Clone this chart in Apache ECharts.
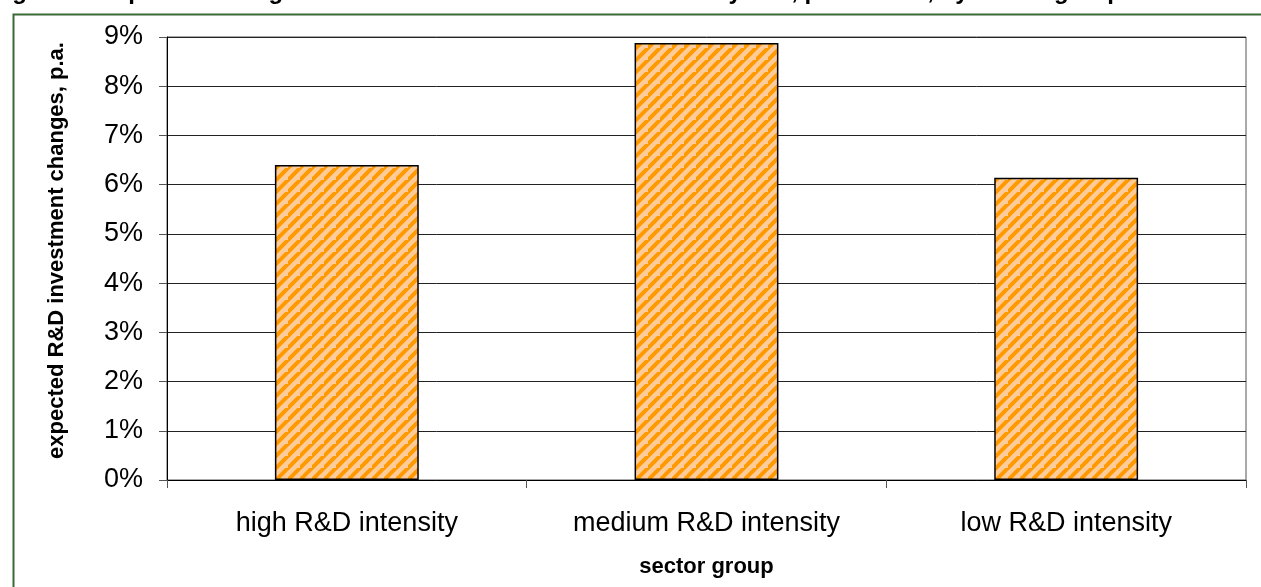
<!DOCTYPE html>
<html>
<head>
<meta charset="utf-8">
<script src="https://cdn.jsdelivr.net/npm/echarts@6/dist/echarts.min.js"></script>
<style>
html,body{margin:0;padding:0;background:#fff;}
#chart{width:1261px;height:587px;}
</style>
</head>
<body>
<div id="chart"></div>
<script>
const categories = ['high R&D intensity', 'medium R&D intensity', 'low R&D intensity'];
const expectedChange = [6.40, 8.88, 6.14];
const yTicks = [0, 1, 2, 3, 4, 5, 6, 7, 8, 9];
const titleText = 'Figure 3: Expected changes in R&D investment in the next three years, per annum, by sector group';
const xName = 'sector group';
const yName = 'expected R&D investment changes, p.a.';

function makePattern() {
  const s = 12;
  const c = document.createElement('canvas');
  c.width = s; c.height = s;
  const g = c.getContext('2d');
  g.fillStyle = '#FFCC99';
  g.fillRect(0, 0, s, s);
  g.strokeStyle = '#FF9900';
  g.lineWidth = 4;
  g.beginPath();
  g.moveTo(-2, s + 2); g.lineTo(s + 2, -2);
  g.moveTo(-2 - s, s + 2); g.lineTo(2, -2);
  g.moveTo(s - 2, 2 * s + 2); g.lineTo(2 * s + 2, s - 2);
  g.stroke();
  return c;
}

const chart = echarts.init(document.getElementById('chart'), null, {renderer: 'canvas'});
const FONT = 'Liberation Sans, Arial, sans-serif';
chart.setOption({
  animation: false,
  backgroundColor: '#fff',
  grid: {left: 167, right: 15, top: 37, bottom: 107, show: true, borderColor: '#555', borderWidth: 1, backgroundColor: 'transparent'},
  graphic: [
    {type: 'rect', left: 11, top: 12, shape: {x: 0, y: 0, width: 1300, height: 700},
     style: {fill: 'none', stroke: '#3b6b35', lineWidth: 2}, z: 100},
    {type: 'text', x: -9, y: 4, style: {text: titleText, font: 'bold 24px ' + FONT, fill: '#000', verticalAlign: 'bottom', align: 'left'}, z: 100}
  ],
  xAxis: {
    type: 'category',
    data: categories,
    boundaryGap: true,
    name: xName,
    nameLocation: 'middle',
    nameGap: 76,
    nameTextStyle: {fontFamily: FONT, fontWeight: 'bold', fontSize: 22, color: '#000'},
    axisLine: {lineStyle: {color: '#000', width: 1}},
    axisTick: {show: true, length: 8, lineStyle: {color: '#555'}},
    axisLabel: {fontFamily: FONT, fontSize: 27, color: '#000', margin: 30}
  },
  yAxis: {
    type: 'value',
    min: yTicks[0],
    max: yTicks[yTicks.length - 1],
    interval: 1,
    name: yName,
    nameLocation: 'middle',
    nameGap: 99,
    nameRotate: 90,
    nameTextStyle: {fontFamily: FONT, fontWeight: 'bold', fontSize: 22, color: '#000', padding: [0, 0, 0, 16]},
    axisLine: {show: true, lineStyle: {color: '#000', width: 1}},
    axisTick: {show: true, length: 8, lineStyle: {color: '#555'}},
    axisLabel: {fontFamily: FONT, fontSize: 27, color: '#000', margin: 24, formatter: '{value}%'},
    splitLine: {show: true, lineStyle: {color: '#222', width: 1}}
  },
  series: [{
    type: 'bar',
    data: expectedChange,
    barWidth: '40%',
    itemStyle: {
      color: {image: makePattern(), repeat: 'repeat'},
      borderColor: '#000',
      borderWidth: 1.5
    }
  }]
});
</script>
</body>
</html>
